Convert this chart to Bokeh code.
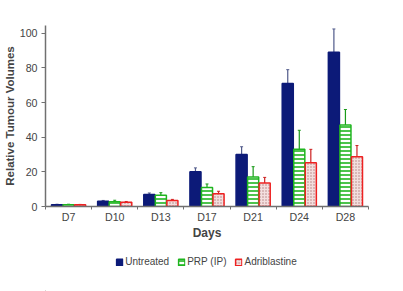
from bokeh.plotting import figure
from bokeh.layouts import column
from bokeh.models import ColumnDataSource, FixedTicker, Whisker, Legend, LegendItem, Range1d, TeeHead
from bokeh.embed import file_html
from bokeh.resources import INLINE

days = ["D7", "D10", "D13", "D17", "D21", "D24", "D28"]
untreated = [1.0, 3.0, 7.0, 20.0, 30.0, 71.0, 89.0]
untreated_err = [0.3, 0.5, 0.8, 2.3, 4.5, 8.0, 13.5]
prp = [1.0, 2.8, 6.5, 11.0, 17.0, 33.0, 47.0]
prp_err = [0.3, 0.8, 1.5, 2.0, 6.0, 11.0, 9.0]
adri = [1.0, 2.5, 3.5, 7.3, 13.5, 25.3, 28.7]
adri_err = [0.2, 0.4, 0.6, 1.5, 3.3, 7.7, 6.5]

series = [
    ("Untreated", untreated, untreated_err, -0.25),
    ("PRP (IP)", prp, prp_err, 0.0),
    ("Adriblastine", adri, adri_err, 0.25),
]

FONT = "Liberation Sans"

p = figure(frame_width=323, frame_height=181, output_backend="svg", toolbar_location=None,
           x_range=Range1d(0, 7), y_range=Range1d(0, 104.5),
           min_border_left=44, min_border_right=36, min_border_top=25, min_border_bottom=40)
p.outline_line_color = None
p.grid.grid_line_color = None
p.background_fill_color = "white"
p.border_fill_color = "white"

styles = {
    "Untreated": dict(fill_color="#0c1a78", line_color="#0c1a78"),
    "PRP (IP)": dict(fill_color="white", line_color="#1fb51f", hatch_pattern="horizontal_line",
                     hatch_color="#1fb51f", hatch_scale=4, hatch_weight=1.6),
    "Adriblastine": dict(fill_color="#f3dede", line_color="#ee2222", hatch_pattern="dot",
                         hatch_color="#b08080", hatch_scale=3, hatch_weight=1.0),
}
err_colors = {"Untreated": "#505a8a", "PRP (IP)": "#1a9a1a", "Adriblastine": "#cc2020"}

# legend-only strip below the chart (its proxy bars sit outside its visible range)
pl = figure(width=403, height=45, output_backend="svg", toolbar_location=None,
            x_range=Range1d(0, 1), y_range=Range1d(0, 1), min_border=0,
            x_axis_location=None, y_axis_location=None)
pl.outline_line_color = None
pl.grid.grid_line_color = None

items = []
for name, vals, errs, off in series:
    xs = [i + 0.5 + off for i in range(len(days))]
    src = ColumnDataSource(dict(x=xs, top=vals, lo=[v - e for v, e in zip(vals, errs)],
                                hi=[v + e for v, e in zip(vals, errs)]))
    p.vbar(x="x", top="top", width=0.24, source=src, line_width=1.5, **styles[name])
    w = Whisker(base="x", lower="lo", upper="hi", source=src, line_color=err_colors[name], line_width=1.2,
                lower_head=None, upper_head=TeeHead(size=3, line_color=err_colors[name]))
    p.add_layout(w)
    rl = pl.vbar(x=[-10], top=[-10], width=0.1, line_width=1.5, **styles[name])
    items.append(LegendItem(label=name, renderers=[rl]))

# axes
p.xaxis.ticker = FixedTicker(ticks=[i + 0.5 for i in range(len(days))], minor_ticks=list(range(len(days) + 1)))
p.xaxis.major_label_overrides = {i + 0.5: d for i, d in enumerate(days)}
p.xaxis.major_tick_line_color = None
p.xaxis.major_tick_out = 3
p.xaxis.major_tick_in = 0
p.xaxis.minor_tick_line_color = "#707070"
p.xaxis.minor_tick_out = 3
p.xaxis.minor_tick_in = 0
p.xaxis.axis_line_color = "#707070"
p.xaxis.axis_line_width = 1.5
p.xaxis.major_label_text_font = FONT
p.xaxis.major_label_text_font_size = "8pt"
p.xaxis.major_label_standoff = 1
p.xaxis.axis_label = "Days"
p.xaxis.axis_label_text_font = FONT
p.xaxis.axis_label_text_font_style = "bold"
p.xaxis.axis_label_text_font_size = "12px"
p.xaxis.axis_label_standoff = 0

p.yaxis.ticker = FixedTicker(ticks=[0, 20, 40, 60, 80, 100], minor_ticks=[])
p.yaxis.major_tick_out = 4
p.yaxis.major_tick_in = 0
p.yaxis.major_tick_line_color = "#707070"
p.yaxis.axis_line_color = "#707070"
p.yaxis.axis_line_width = 1.5
p.yaxis.major_label_text_font = FONT
p.yaxis.major_label_text_font_size = "8pt"
p.yaxis.major_label_standoff = 4
p.yaxis.axis_label = "Relative Tumour Volumes"
p.yaxis.axis_label_text_font = FONT
p.yaxis.axis_label_text_font_style = "bold"
p.yaxis.axis_label_text_font_size = "11.5px"
p.yaxis.axis_label_standoff = 1

legend = Legend(items=items, orientation="horizontal", location="top_center",
                glyph_width=8, glyph_height=8, label_standoff=2, spacing=8, padding=0,
                label_text_font=FONT, label_text_font_size="10px", border_line_color=None,
                background_fill_alpha=0, label_height=10, margin=10)
pl.add_layout(legend, "center")

layout = column(p, pl, spacing=0)
open("out.html", "w").write(file_html(layout, INLINE))
